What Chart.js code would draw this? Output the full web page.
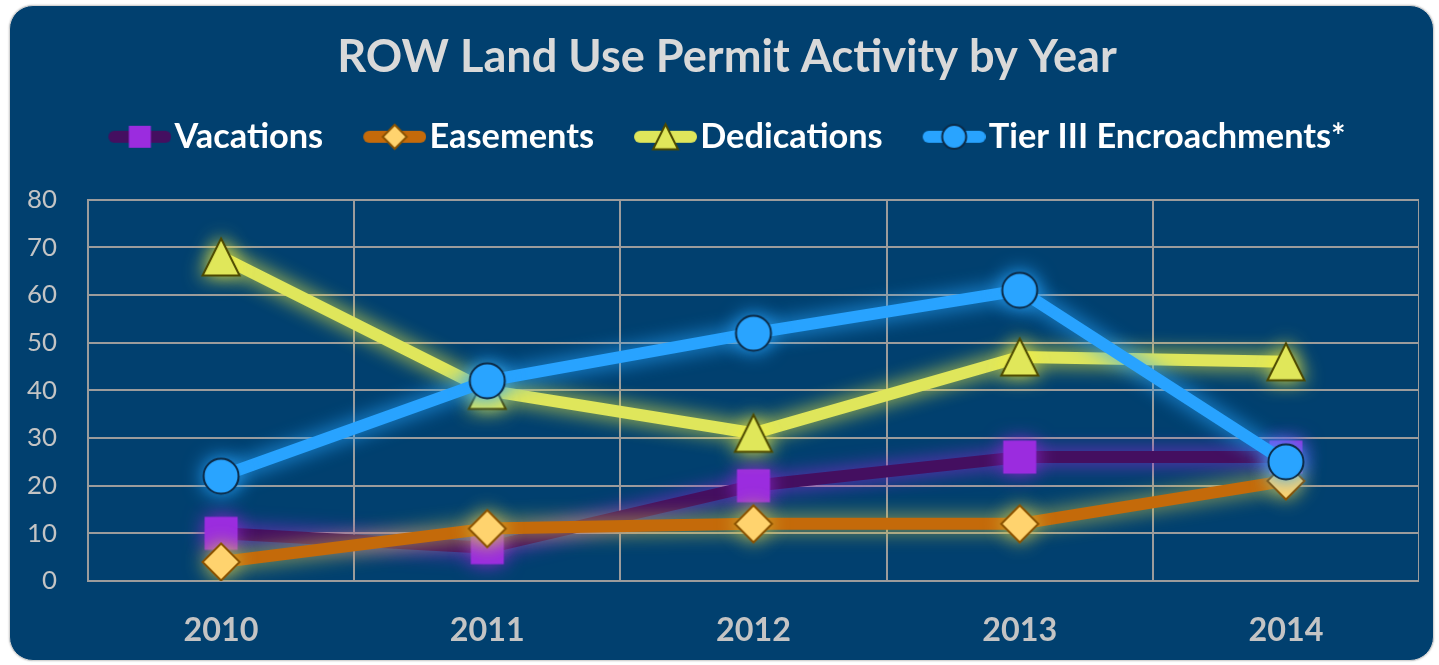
<!DOCTYPE html>
<html>
<head>
<meta charset="utf-8">
<script src="https://cdn.jsdelivr.net/npm/chart.js@4.4.1/dist/chart.umd.min.js"></script>
<style>
  html, body { margin: 0; padding: 0; background: #ffffff; width: 1439px; height: 665px; overflow: hidden; }
  #panel { position: absolute; left: 9px; top: 5px; width: 1423px; height: 654px; border-radius: 24px;
           background: #01406f; border: 1px solid #d4d4d4; box-shadow: 0 0 2px rgba(0,0,0,0.25); }
  #c { position: absolute; left: 10px; top: 0px; }
</style>
</head>
<body>
<div id="panel"></div>
<canvas id="c" width="1409" height="665"></canvas>
<script>
// ---- data ----
const years = ['2010', '2011', '2012', '2013', '2014'];
const vacations = [10, 7, 20, 26, 26];
const easements = [4, 11, 12, 12, 21];
const dedications = [68, 40, 31, 47, 46];
const tier3 = [22, 42, 52, 61, 25];
const seriesNames = ['Vacations', 'Easements', 'Dedications', 'Tier III Encroachments*'];
const yTicks = [0, 10, 20, 30, 40, 50, 60, 70, 80];
const titleText = 'ROW Land Use Permit Activity by Year';

// ---- fonts sized to match reference widths ----
const FAMILY = 'Lato, "Open Sans", sans-serif';
const mctx = document.createElement('canvas').getContext('2d');
function fit(texts, weight, target) {
  mctx.font = weight + ' 100px ' + FAMILY;
  let w = 0; texts.forEach(t => w += mctx.measureText(t).width);
  return 100 * target / w;
}
const titleSize = fit([titleText], 'bold', 780);
const legendSize = fit(seriesNames, 'bold', 853);
const xTickSize = fit(['2010'], 'bold', 75);
const yTickSize = fit(['80'], 'normal', 30);
const LEG_PAD = 40;
const titlePadTop = 57 - titleSize / 2;
const legendTop = 136 - LEG_PAD - legendSize / 2;
const titlePadBottom = Math.max(0, legendTop - titlePadTop - titleSize);
const legendBottom = legendTop + legendSize + LEG_PAD + 10;
const spacerPad = Math.max(0, 199 - legendBottom - 10);

// ---- marker images ----
function mk(w, h, fn) { const c = document.createElement('canvas'); c.width = w; c.height = h; fn(c.getContext('2d'), w, h); return c; }
function square(s, fill) { return (g, cx, cy) => { g.fillStyle = fill; g.fillRect(cx - s / 2, cy - s / 2, s, s); }; }
function diamond(s, fill, stroke) { return (g, cx, cy) => { g.beginPath(); g.moveTo(cx, cy - s / 2); g.lineTo(cx + s / 2, cy); g.lineTo(cx, cy + s / 2); g.lineTo(cx - s / 2, cy); g.closePath(); g.fillStyle = fill; g.fill(); g.lineWidth = 2; g.strokeStyle = stroke; g.lineJoin = 'miter'; g.stroke(); }; }
function triangle(s, fill, stroke) { return (g, cx, cy) => { g.beginPath(); g.moveTo(cx, cy - s / 2); g.lineTo(cx + s / 2, cy + s / 2); g.lineTo(cx - s / 2, cy + s / 2); g.closePath(); g.fillStyle = fill; g.fill(); g.lineWidth = 2; g.strokeStyle = stroke; g.stroke(); }; }
function circle(s, fill, stroke) { return (g, cx, cy) => { g.beginPath(); g.arc(cx, cy, s / 2, 0, Math.PI * 2); g.fillStyle = fill; g.fill(); g.lineWidth = 2; g.strokeStyle = stroke; g.stroke(); }; }

const styles = [
  { line: '#440f60', glow: 'rgba(140,40,210,0.95)', big: square(33, '#9b2cdf'), small: square(22, '#9b2cdf') },
  { line: '#c46a0a', glow: 'rgba(215,205,70,0.85)', big: diamond(37, '#ffd36e', '#8a5200'), small: diamond(24, '#ffd36e', '#8a5200') },
  { line: '#dfe65b', glow: 'rgba(245,240,60,0.95)', big: triangle(37, '#e0e75a', '#4c4800'), small: triangle(25, '#e0e75a', '#4c4800') },
  { line: '#28a3ff', glow: 'rgba(40,165,255,0.95)', big: circle(35, '#29a4ff', '#0c2a46'), small: circle(24, '#29a4ff', '#0c2a46') }
];
const pointImgs = styles.map(s => mk(42, 42, (g, w, h) => s.big(g, w / 2, h / 2)));
const BOXW = 49;
const legendImgs = styles.map(s => mk(BOXW + 28, 30, (g, w, h) => {
  const x0 = w - 63, cy = h / 2;
  g.strokeStyle = s.line; g.lineWidth = 12; g.lineCap = 'round';
  g.beginPath(); g.moveTo(x0 + 6, cy); g.lineTo(w - 6, cy); g.stroke();
  s.small(g, x0 + 31.5, cy);
}));

const seriesData = [vacations, easements, dedications, tier3];
const datasets = seriesData.map((d, i) => ({
  label: seriesNames[i],
  data: d,
  borderColor: styles[i].line,
  backgroundColor: styles[i].line,
  borderWidth: 12,
  borderCapStyle: 'round',
  borderJoinStyle: 'round',
  tension: 0,
  pointStyle: pointImgs[i],
  pointRadius: 18,
  pointHoverRadius: 18,
  order: 3 - i,
  glowColor: styles[i].glow
}));

const glowPlugin = {
  id: 'glow',
  beforeDatasetDraw(chart, args) {
    const ds = chart.data.datasets[args.index];
    chart.ctx.save();
    chart.ctx.shadowColor = ds.glowColor;
    chart.ctx.shadowBlur = 20;
  },
  afterDatasetDraw(chart) { chart.ctx.restore(); }
};

const gridColor = '#9c9c9c';
new Chart(document.getElementById('c'), {
  type: 'line',
  data: { labels: years, datasets },
  plugins: [glowPlugin],
  options: {
    responsive: false,
    animation: false,
    events: [],
    layout: { autoPadding: false, padding: { left: 25, right: 0, top: 0, bottom: 0 } },
    plugins: {
      title: {
        display: true, text: titleText, color: '#d9d9d9',
        font: { family: FAMILY, size: titleSize, weight: 'bold', lineHeight: 1.0 },
        padding: { top: titlePadTop, bottom: titlePadBottom }
      },
      legend: {
        display: true, position: 'top',
        labels: {
          usePointStyle: true, pointStyleWidth: BOXW, padding: LEG_PAD,
          color: '#ffffff',
          font: { family: FAMILY, size: legendSize, weight: 'bold' },
          generateLabels: (chart) => chart.data.datasets.map((ds, i) => ({
            text: ds.label, pointStyle: legendImgs[i], fillStyle: ds.borderColor,
            strokeStyle: 'rgba(0,0,0,0)', lineWidth: 0, hidden: false, datasetIndex: i, fontColor: '#ffffff'
          }))
        }
      },
      subtitle: {
        display: true, text: '', position: 'top', weight: 500,
        font: { size: 10, lineHeight: 1 }, padding: { top: 0, bottom: spacerPad }
      },
      tooltip: { enabled: false }
    },
    scales: {
      x: {
        type: 'category', offset: true,
        grid: { color: gridColor, lineWidth: 2, offset: true, drawTicks: false },
        border: { color: gridColor, width: 2 },
        ticks: { color: '#c4c4c4', font: { family: FAMILY, size: xTickSize, weight: 'bold' }, padding: 30 },
        afterFit: (s) => { s.height = 84; s.paddingLeft = 0; s.paddingRight = 0; }
      },
      y: {
        min: 0, max: 80,
        afterBuildTicks: (s) => { s.ticks = yTicks.map(v => ({ value: v })); },
        grid: { color: gridColor, lineWidth: 2, drawTicks: false },
        border: { color: gridColor, width: 2 },
        ticks: { color: '#c4c4c4', font: { family: FAMILY, size: yTickSize }, padding: 31 },
        afterFit: (s) => { s.width = 53; s.paddingTop = 0; s.paddingBottom = 0; s._computeLabelArea = () => undefined; }
      }
    }
  }
});
</script>
</body>
</html>
